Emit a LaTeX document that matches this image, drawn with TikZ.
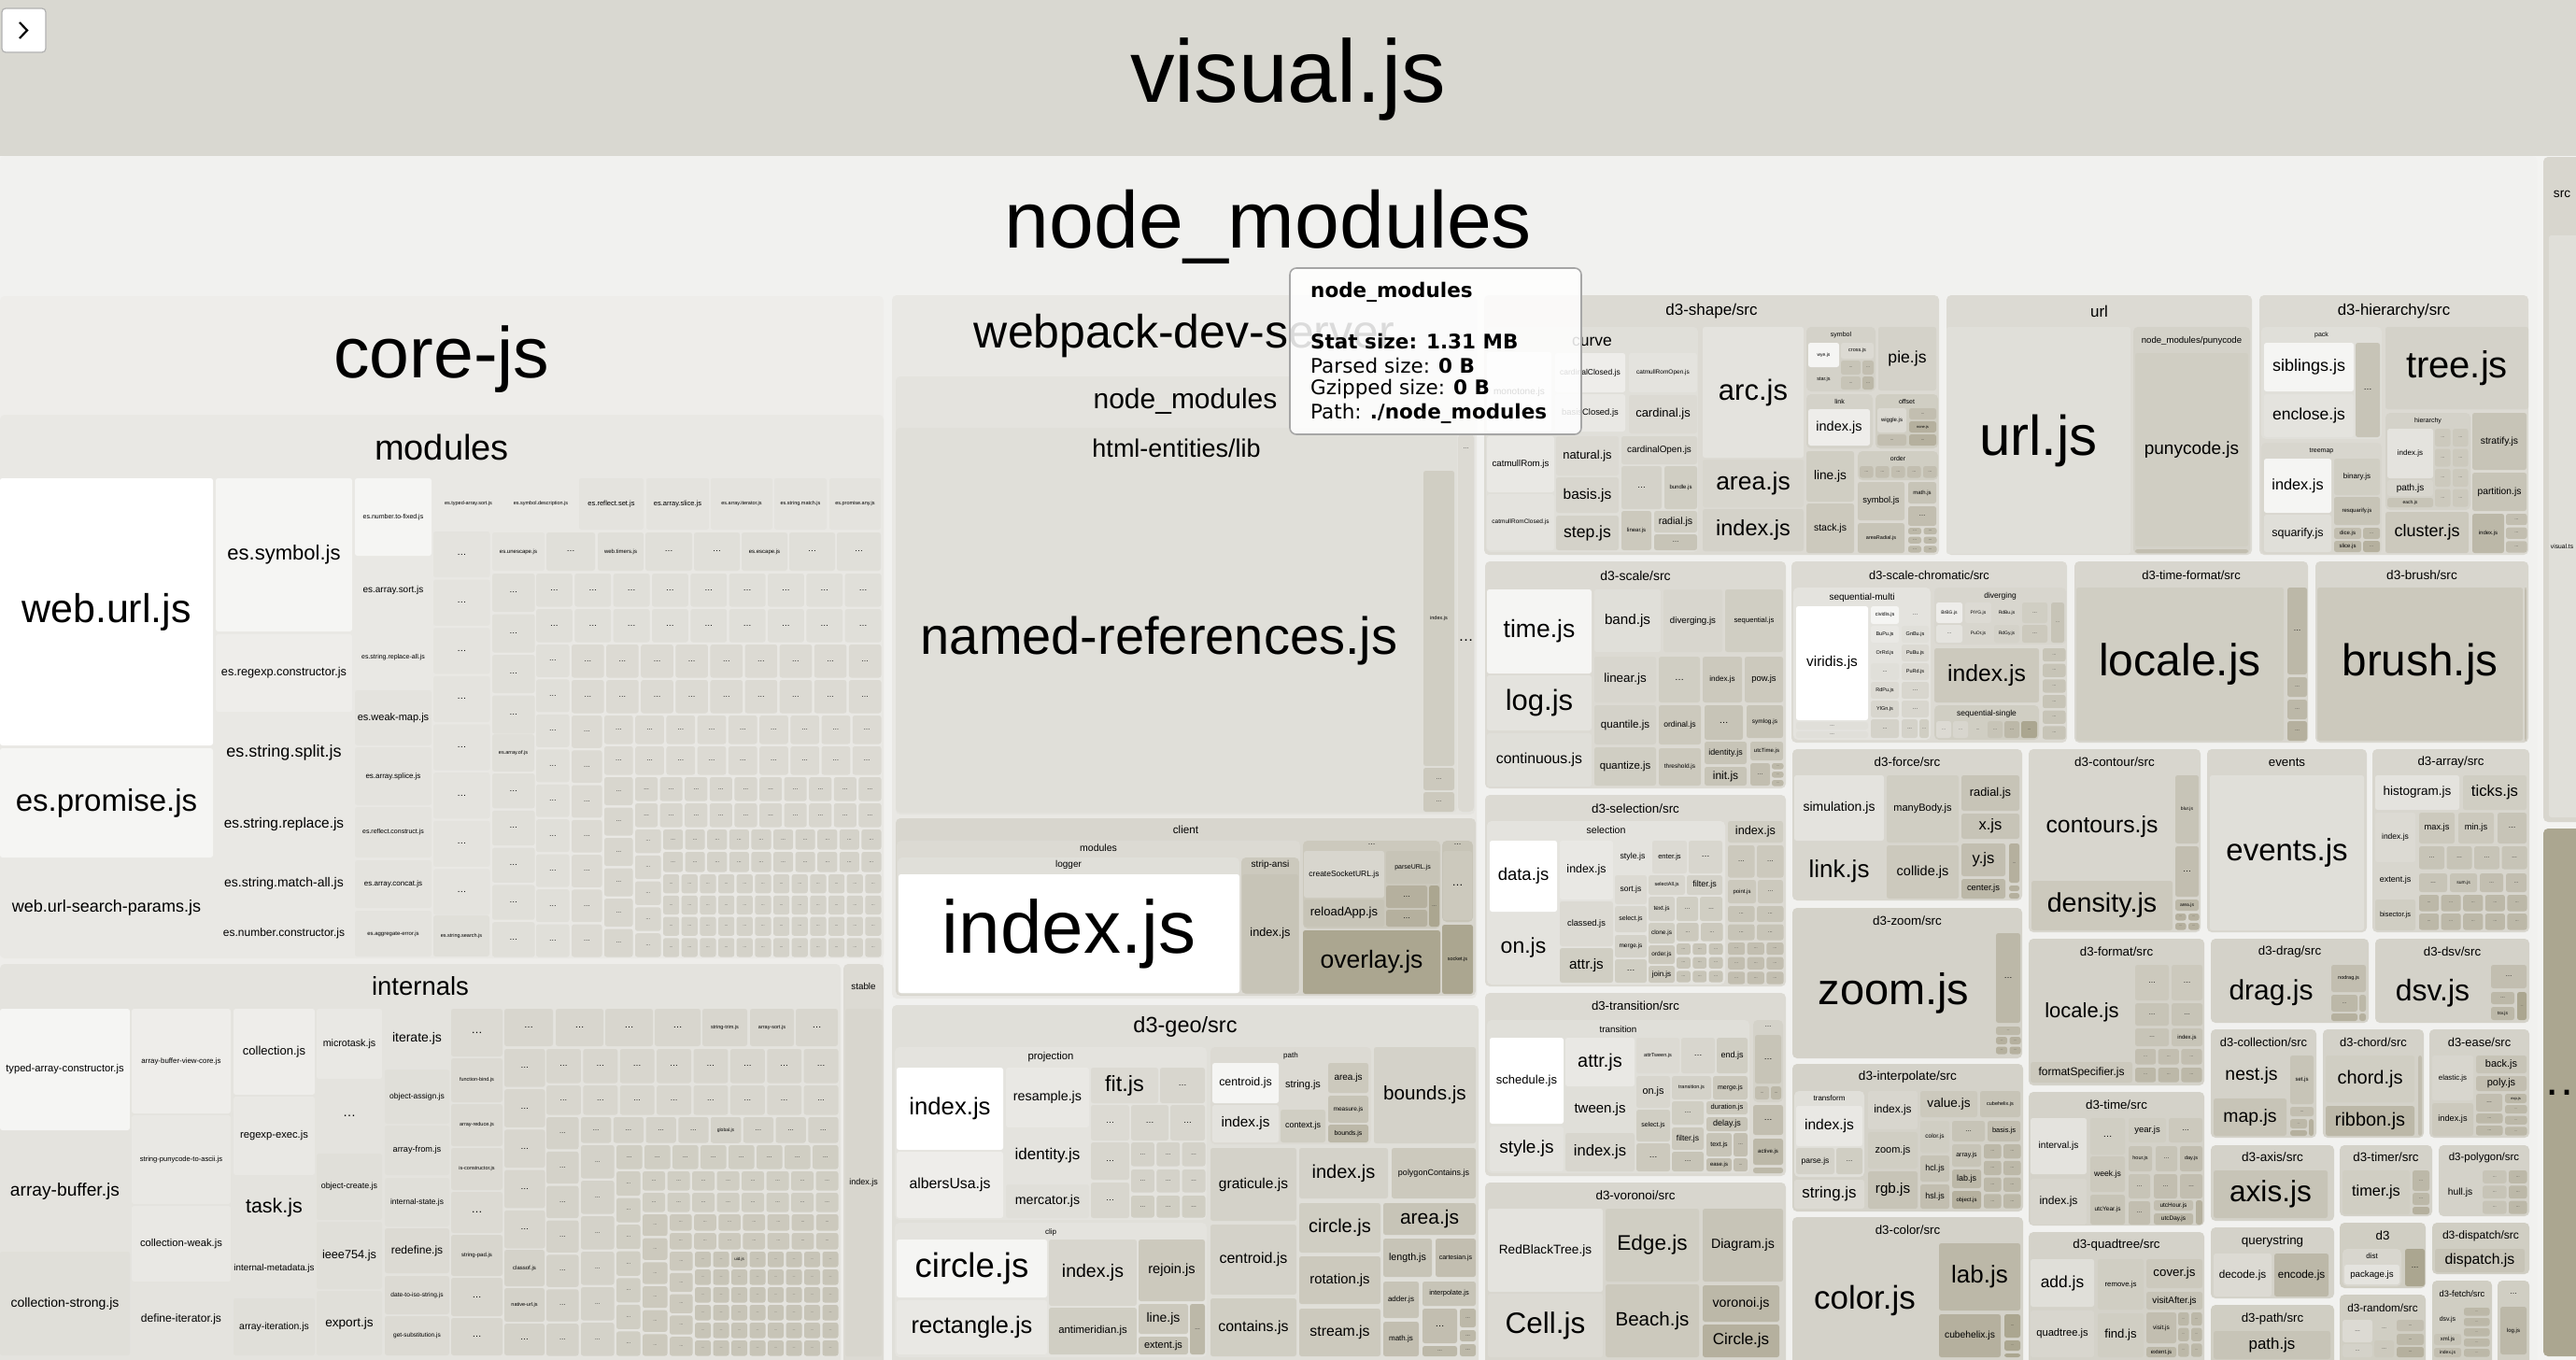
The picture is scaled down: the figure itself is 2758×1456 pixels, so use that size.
\documentclass[tikz,border=0pt]{standalone}
\usepackage{fontspec}
\setmainfont{Liberation Sans}
\newfontfamily\tipfont{DejaVu Sans}
\newcommand\fsz[1]{\fontsize{#1}{#1}\selectfont}

\definecolor{page}{HTML}{F3F3F1}
\definecolor{band}{HTML}{D9D8D1}
\definecolor{nmod}{HTML}{F1F1EF}
\definecolor{g0}{HTML}{FFFFFF}
\definecolor{g1}{HTML}{F5F5F3}
\definecolor{g2}{HTML}{EEEDEA}
\definecolor{g3}{HTML}{E9E8E4}
\definecolor{g4}{HTML}{E4E3DE}
\definecolor{g5}{HTML}{E0DFD9}
\definecolor{g6}{HTML}{DCDAD3}
\definecolor{g7}{HTML}{D8D6CE}
\definecolor{g8}{HTML}{D4D2C9}
\definecolor{g9}{HTML}{D0CEC3}
\definecolor{g10}{HTML}{CCC9BD}
\definecolor{g11}{HTML}{C7C4B7}
\definecolor{g12}{HTML}{C2BEB0}
\definecolor{g13}{HTML}{BCB8A8}
\definecolor{g14}{HTML}{B5B09E}
\definecolor{g15}{HTML}{ABA690}

% grid of small "..." cells: x0 y0 x1 y1 cols rows colour size
\newcommand\dotgrid[8]{%
  \foreach \i in {1,...,#5}{%
    \foreach \j in {1,...,#6}{%
      \pgfmathsetmacro\gxa{#1+(\i-1)*(#3-#1)/#5}%
      \pgfmathsetmacro\gxb{#1+\i*(#3-#1)/#5-2.5}%
      \pgfmathsetmacro\gya{#2+(\j-1)*(#4-#2)/#6}%
      \pgfmathsetmacro\gyb{#2+\j*(#4-#2)/#6-2.5}%
      \fill[#7,cell] (\gxa,\gya) rectangle (\gxb,\gyb);
      \node[font=\fsz{#8}] at ({(\gxa+\gxb)/2},{(\gya+\gyb)/2}) {…};
    }%
  }%
}

\begin{document}
\begin{tikzpicture}[x=1pt,y=-1pt,
  cell/.style={rounded corners=2.5},
  grp/.style={rounded corners=5},
  every node/.style={inner sep=0pt}]

\useasboundingbox (0,0) rectangle (2758,1456);
\clip (0,0) rectangle (2758,1456);

\fill[page] (0,0) rectangle (2758,1456);
\fill[band] (0,0) rectangle (2758,167);
\node[font=\fsz{95}] at (1379,85) {visual.js};
\fill[white,rounded corners=4] (2,9) rectangle (49,56);
\draw[black!30,line width=1.2,rounded corners=4] (2,9) rectangle (49,56);
\draw[line width=2.2] (21,24) -- (29,32.5) -- (21,41);

\fill[nmod,grp] (0,167) rectangle (2716,1480);
\node[font=\fsz{86}] at (1358,243) {node\_modules};

% src column
\fill[g7,grp] (2723,168) rectangle (2780,880);
\node[font=\fsz{13.6}] at (2743,208) {src};
\fill[g5,cell] (2729,252) rectangle (2780,875);
\node[font=\fsz{6.7}] at (2743,585) {visual.ts};
\fill[g15,grp] (2723,887) rectangle (2780,1452);
\node[font=\fsz{50}] at (2748,1170) {…};

% groups
\foreach \xa/\ya/\xb/\yb/\cc/\sz/\ty/\lb in {
  0/317/946/1480/g2/77/385/{core-js},
  0/444/946/1026/g3/38/479/{modules},
  0/1032/900/1480/g4/27.5/1056/{internals},
  903/1032/946/1480/g6/9.8/1056/{stable},
  955/316/1581/1069/g3/50/360/{webpack-dev-server},
  959/403/1579/872/g4/30/430/{node\_modules},
  959/458/1560/870/g5/27/480/{html-entities/lib},
  1561/464/1578/869/g6/6/480/{…},
  959/876/1580/1066/g7/11.7/888/{client},
  960/900/1392/1065/g6/10.5/908/{modules},
  961/918/1327/1064/g5/10/926/{logger},
  1329/918/1391/1064/g10/10/926/{strip-ansi},
  1395/900/1542/994/g10/8/904/{…},
  1544/900/1577/987/g11/8/904/{…},
  955/1076/1583/1480/g5/23.5/1099/{d3-geo/src},
  958/1121/1292/1306/g4/11.3/1132/{projection},
  958/1309/1292/1453/g4/8/1319/{clip},
  1296/1121/1468/1225/g6/8/1130/{path},
  1589/316/2076/594/g6/17/333/{d3-shape/src},
  1591/350/1818/591/g5/17.5/366/{curve},
  1934/350/2008/419/g8/7/359/{symbol},
  1934/422/2005/480/g8/7/430/{link},
  2008/422/2075/480/g9/7/430/{offset},
  1989/483/2075/514/g9/7/491/{order},
  2084/316/2411/594/g6/17/333/{url},
  2284/350/2409/593/g8/9.6/365/{node\_modules/punycode},
  2419/316/2707/594/g6/16.8/333/{d3-hierarchy/src},
  2421/350/2550/470/g5/7/359/{pack},
  2554/442/2645/546/g8/7/451/{hierarchy},
  2421/474/2550/593/g7/7/483/{treemap},
  1590/601/1912/844/g6/14/616/{d3-scale/src},
  1918/601/2213/795/g6/12.8/616/{d3-scale-chromatic/src},
  1920/629/2067/792/g4/10/640/{sequential-multi},
  2071/629/2212/690/g7/8.5/638/{diverging},
  2071/755/2183/792/g9/8.5/764/{sequential-single},
  2221/601/2471/795/g7/13/616/{d3-time-format/src},
  2479/601/2707/795/g7/13.6/616/{d3-brush/src},
  1590/851/1912/1056/g6/13.4/866/{d3-selection/src},
  1592/879/1847/1054/g4/10.6/889/{selection},
  1919/802/2165/964/g7/13.4/816/{d3-force/src},
  2172/802/2356/998/g7/13.4/816/{d3-contour/src},
  2363/802/2534/998/g7/13.3/816/{events},
  2540/802/2708/998/g7/13.3/816/{d3-array/src},
  1919/972/2165/1133/g8/13.4/986/{d3-zoom/src},
  2172/1005/2360/1162/g8/13.3/1019/{d3-format/src},
  2367/1005/2536/1095/g8/13.3/1019/{d3-drag/src},
  2543/1005/2708/1095/g8/13.3/1019/{d3-dsv/src},
  1590/1063/1912/1259/g6/13.2/1077/{d3-transition/src},
  1592/1092/1873/1256/g5/9.8/1102/{transition},
  1877/1092/1909/1180/g8/7/1099/{…},
  2367/1102/2480/1218/g8/12.9/1116/{d3-collection/src},
  2487/1102/2595/1218/g8/12.9/1116/{d3-chord/src},
  2601/1102/2708/1218/g8/12.9/1116/{d3-ease/src},
  1919/1139/2166/1297/g8/13.6/1153/{d3-interpolate/src},
  1921/1168/1996/1260/g5/8/1176/{transform},
  2172/1169/2360/1312/g8/13.3/1183/{d3-time/src},
  2367/1226/2499/1307/g8/13.6/1239/{d3-axis/src},
  2505/1226/2604/1302/g8/13.3/1239/{d3-timer/src},
  2611/1226/2708/1302/g8/11.5/1240/{d3-polygon/src},
  1590/1266/1912/1480/g7/13.4/1280/{d3-voronoi/src},
  1919/1303/2166/1480/g8/13.3/1317/{d3-color/src},
  2172/1319/2360/1480/g8/13.3/1333/{d3-quadtree/src},
  2367/1314/2499/1390/g8/13.4/1329/{querystring},
  2367/1397/2499/1480/g9/13.3/1412/{d3-path/src},
  2505/1309/2597/1379/g9/13.3/1323/{d3},
  2508/1337/2571/1377/g7/8/1345/{dist},
  2604/1309/2708/1364/g9/12.1/1323/{d3-dispatch/src},
  2505/1386/2597/1480/g9/11.7/1400/{d3-random/src},
  2604/1371/2668/1480/g9/9.3/1385/{d3-fetch/src},
  2674/1371/2708/1480/g9/8/1385/{…}}
{
  \fill[\cc,grp] (\xa,\ya) rectangle (\xb,\yb);
  \node[font=\fsz{\sz}] at ({(\xa+\xb)/2},\ty) {\lb};
}

% modules
\foreach \xa/\ya/\xb/\yb/\cc/\sz/\lb in {
  0/512/228/798/g0/43/{web.url.js},
  0/801/228/918/g1/33/{es.promise.js},
  0/920/228/1024/g3/18/{web.url-search-params.js},
  231/512/377/676/g1/22/{es.symbol.js},
  231/679/377/762/g2/12.7/{es.regexp.constructor.js},
  231/764/377/847/g3/18/{es.string.split.js},
  231/849/377/917/g3/15.4/{es.string.replace.js},
  231/919/377/972/g3/14/{es.string.match-all.js},
  231/975/377/1024/g3/12/{es.number.constructor.js},
  380/512/462/595/g1/7/{es.number.to-fixed.js},
  380/597/462/667/g3/10/{es.array.sort.js},
  380/670/462/737/g3/7/{es.string.replace-all.js},
  380/739/462/798/g4/11/{es.weak-map.js},
  380/800/462/862/g4/8/{es.array.splice.js},
  380/864/462/918/g4/7/{es.reflect.construct.js},
  380/921/462/972/g4/8/{es.array.concat.js},
  380/975/462/1024/g4/6/{es.aggregate-error.js},
  464/512/539/567/g3/5.5/{es.typed-array.sort.js},
  541/512/617/567/g3/5.5/{es.symbol.description.js},
  620/512/689/567/g4/7.5/{es.reflect.set.js},
  692/512/759/567/g4/7.5/{es.array.slice.js},
  761/512/827/567/g4/5.5/{es.array.iterator.js},
  829/512/885/567/g4/5.5/{es.string.match.js},
  888/512/943/567/g4/5.5/{es.promise.any.js},
  527/570/583/611/g4/6/{es.unescape.js},
  585/570/637/611/g5/9/{…},
  640/570/689/611/g5/6/{web.timers.js},
  691/570/741/611/g5/9/{…},
  743/570/792/611/g5/9/{…},
  794/570/843/611/g5/6/{es.escape.js},
  845/570/894/611/g5/9/{…},
  896/570/943/611/g5/9/{…},
  464/980/524/1024/g5/5.5/{es.string.search.js},
  527/786/572/826/g5/5.5/{es.array.of.js}}
{
  \fill[\cc,cell] (\xa,\ya) rectangle (\xb,\yb);
  \node[font=\fsz{\sz}] at ({(\xa+\xb)/2},{(\ya+\yb)/2}) {\lb};
}
\dotgrid{464}{569}{527}{982}{1}{8}{g4}{10}
\dotgrid{527}{614}{575}{788}{1}{4}{g5}{9}
\dotgrid{527}{828}{575}{1027}{1}{5}{g5}{9}
\dotgrid{574}{614}{946}{690}{9}{2}{g5}{9}
\dotgrid{574}{690}{612}{1027}{1}{9}{g5}{8}
\dotgrid{612}{690}{946}{766}{9}{2}{g6}{8}
\dotgrid{612}{766}{647}{1027}{1}{7}{g6}{7}
\dotgrid{647}{766}{946}{832}{9}{2}{g6}{7}
\dotgrid{647}{832}{680}{1027}{1}{6}{g7}{6}
\dotgrid{680}{832}{946}{888}{10}{2}{g7}{6}
\dotgrid{680}{888}{710}{1027}{1}{5}{g7}{5}
\dotgrid{710}{888}{946}{936}{10}{2}{g8}{5}
\dotgrid{710}{936}{946}{1027}{12}{4}{g8}{4}

% internals
\foreach \xa/\ya/\xb/\yb/\cc/\sz/\lb in {
  0/1080/139/1210/g1/11.2/{typed-array-constructor.js},
  0/1213/139/1338/g4/19.2/{array-buffer.js},
  0/1340/139/1451/g5/14/{collection-strong.js},
  141/1080/247/1192/g2/7.9/{array-buffer-view-core.js},
  141/1194/247/1289/g3/7.6/{string-punycode-to-ascii.js},
  141/1291/247/1372/g3/11.2/{collection-weak.js},
  141/1374/247/1451/g4/12.1/{define-iterator.js},
  250/1080/337/1172/g2/13/{collection.js},
  250/1174/337/1258/g3/11.2/{regexp-exec.js},
  250/1260/337/1325/g4/21.5/{task.js},
  250/1327/337/1388/g4/9.8/{internal-metadata.js},
  250/1390/337/1451/g5/10.4/{array-iteration.js},
  339/1080/409/1155/g3/10.7/{microtask.js},
  339/1157/409/1233/g4/14/{…},
  339/1235/409/1306/g5/8.9/{object-create.js},
  339/1308/409/1380/g5/12.7/{ieee754.js},
  339/1382/409/1451/g5/13.6/{export.js},
  412/1080/481/1143/g4/14/{iterate.js},
  412/1145/481/1203/g5/8.5/{object-assign.js},
  412/1205/481/1258/g5/9.2/{array-from.js},
  412/1261/481/1313/g5/8.4/{internal-state.js},
  412/1315/481/1363/g6/12/{redefine.js},
  412/1366/481/1407/g6/6.6/{date-to-iso-string.js},
  412/1409/481/1451/g6/6.5/{get-substitution.js},
  483/1080/538/1131/g6/12/{…},
  483/1133/538/1180/g6/5.5/{function-bind.js},
  483/1182/538/1227/g6/5.5/{array-reduce.js},
  483/1229/538/1274/g6/5.5/{is-constructor.js},
  483/1276/538/1320/g6/12/{…},
  483/1322/538/1366/g7/6/{string-pad.js},
  483/1368/538/1409/g7/10/{…},
  483/1411/538/1451/g7/10/{…},
  540/1080/592/1120/g7/10/{…},
  595/1080/646/1120/g7/10/{…},
  648/1080/699/1120/g7/10/{…},
  701/1080/750/1120/g7/10/{…},
  752/1080/800/1120/g7/5.5/{string-trim.js},
  803/1080/850/1120/g7/5.5/{array-sort.js},
  852/1080/897/1120/g7/10/{…},
  540/1338/583/1377/g8/6/{classof.js},
  540/1379/583/1415/g8/5.5/{native-url.js},
  540/1417/583/1451/g8/9/{…},
  905/1080/944/1452/g7/9/{index.js}}
{
  \fill[\cc,cell] (\xa,\ya) rectangle (\xb,\yb);
  \node[font=\fsz{\sz}] at ({(\xa+\xb)/2},{(\ya+\yb)/2}) {\lb};
}
\dotgrid{540}{1123}{586}{1339}{1}{5}{g7}{9}
\dotgrid{585}{1123}{900}{1162}{8}{1}{g7}{9}
\dotgrid{585}{1162}{900}{1196}{8}{1}{g7}{8}
\dotgrid{585}{1196}{622}{1454}{1}{7}{g8}{7}
\dotgrid{622}{1196}{900}{1226}{8}{1}{g8}{7}
\dotgrid{622}{1226}{660}{1454}{1}{6}{g8}{6}
\dotgrid{660}{1226}{900}{1254}{8}{1}{g9}{6}
\dotgrid{660}{1254}{688}{1454}{1}{7}{g9}{5}
\dotgrid{688}{1254}{900}{1300}{8}{2}{g9}{5}
\dotgrid{688}{1300}{717}{1454}{1}{6}{g10}{4}
\dotgrid{717}{1300}{900}{1340}{7}{2}{g10}{4}
\dotgrid{717}{1340}{744}{1454}{1}{5}{g10}{4}
\dotgrid{744}{1340}{900}{1454}{8}{6}{g11}{3}
\fill[g8,cell] (761,1196) rectangle (793,1223.5);
\node[font=\fsz{5}] at (777,1210) {global.js};
\fill[g11,cell] (783,1340) rectangle (800,1356.5);
\node[font=\fsz{4.5}] at (791.5,1348) {uid.js};

% webpack-dev-server and d3-geo
\foreach \xa/\ya/\xb/\yb/\cc/\sz/\lb in {
  961/504/1521/869/g5/56/{named-references.js},
  1524/504/1557/820/g9/5.5/{index.js},
  1524/822/1557/846/g10/6/{…},
  1524/848/1557/869/g10/6/{…},
  1562/504/1577/868/g6/16/{…},
  962/936/1327/1063/g0/80/{index.js},
  1330/936/1390/1063/g11/12.7/{index.js},
  1396/911/1482/961/g7/8.5/{createSocketURL.js},
  1484/911/1541/946/g11/7/{parseURL.js},
  1396/963/1482/992/g11/13/{reloadApp.js},
  1484/948/1528/972/g14/8/{…},
  1484/974/1528/992/g14/8/{…},
  1530/948/1541/992/g15/5/{…},
  1545/911/1576/985/g10/12/{…},
  1395/996/1542/1064/g15/26.5/{overlay.js},
  1544/990/1577/1064/g15/5.5/{socket.js},
  960/1143/1074/1231/g0/25.7/{index.js},
  960/1233/1074/1304/g2/15.8/{albersUsa.js},
  1077/1143/1166/1207/g3/14.3/{resample.js},
  1077/1209/1166/1266/g4/17/{identity.js},
  1077/1268/1166/1304/g5/14.2/{mercator.js},
  1168/1143/1240/1181/g6/23.5/{fit.js},
  1242/1143/1290/1181/g7/9/{…},
  1168/1183/1209/1221/g6/9/{…},
  1211/1183/1251/1221/g7/9/{…},
  1253/1183/1290/1221/g7/9/{…},
  1168/1223/1209/1263/g7/9/{…},
  1168/1266/1209/1304/g7/9/{…},
  960/1327/1121/1389/g1/36.5/{circle.js},
  960/1392/1121/1450/g3/25.4/{rectangle.js},
  1123/1327/1217/1398/g7/19.5/{index.js},
  1123/1400/1217/1450/g9/11.4/{antimeridian.js},
  1219/1327/1290/1393/g10/14.6/{rejoin.js},
  1219/1396/1272/1428/g10/14/{line.js},
  1219/1431/1272/1450/g11/11/{extent.js},
  1274/1396/1290/1450/g13/6/{…},
  1298/1138/1369/1181/g1/12.4/{centroid.js},
  1298/1183/1369/1223/g4/15.3/{index.js},
  1371/1138/1419/1186/g6/11/{string.js},
  1371/1188/1419/1223/g9/9/{context.js},
  1422/1138/1465/1170/g10/10/{area.js},
  1422/1173/1465/1202/g11/6.5/{measure.js},
  1422/1204/1465/1223/g13/7/{bounds.js},
  1471/1121/1580/1224/g8/20.7/{bounds.js},
  1296/1229/1388/1307/g8/15.5/{graticule.js},
  1296/1311/1388/1386/g8/16/{centroid.js},
  1296/1390/1388/1452/g9/15.9/{contains.js},
  1391/1229/1486/1283/g8/20/{index.js},
  1490/1229/1580/1283/g10/9/{polygonContains.js},
  1391/1288/1478/1341/g9/20/{circle.js},
  1481/1288/1580/1322/g11/21/{area.js},
  1391/1345/1478/1396/g10/14.8/{rotation.js},
  1391/1401/1478/1452/g10/15.8/{stream.js},
  1481/1326/1533/1367/g11/10.7/{length.js},
  1537/1326/1580/1367/g12/7/{cartesian.js},
  1481/1372/1519/1411/g11/8/{adder.js},
  1523/1372/1580/1398/g11/7.5/{interpolate.js},
  1481/1415/1519/1452/g12/8/{math.js},
  1523/1401/1560/1438/g12/10/{…},
  1563/1401/1580/1421/g13/5/{…},
  1563/1424/1580/1436/g13/5/{…},
  1523/1441/1560/1452/g13/5/{…},
  1563/1439/1580/1452/g13/5/{…}}
{
  \fill[\cc,cell] (\xa,\ya) rectangle (\xb,\yb);
  \node[font=\fsz{\sz}] at ({(\xa+\xb)/2},{(\ya+\yb)/2}) {\lb};
}
\dotgrid{1211}{1223}{1293}{1251}{3}{1}{g8}{6}
\dotgrid{1211}{1252}{1293}{1279}{3}{1}{g8}{6}
\dotgrid{1211}{1280}{1293}{1306}{3}{1}{g9}{6}

% d3-shape, url, d3-hierarchy
\foreach \xa/\ya/\xb/\yb/\cc/\sz/\lb in {
  1592/377/1661/462/g1/10.1/{monotone.js},
  1665/378/1740/420/g2/8.5/{cardinalClosed.js},
  1665/422/1740/462/g3/9.4/{basisClosed.js},
  1744/378/1817/420/g4/6.5/{catmullRomOpen.js},
  1744/423/1817/464/g6/13/{cardinal.js},
  1592/467/1664/527/g3/9.7/{catmullRom.js},
  1592/529/1664/589/g4/6.5/{catmullRomClosed.js},
  1666/467/1733/509/g6/12.9/{natural.js},
  1666/511/1733/549/g7/15.5/{basis.js},
  1666/552/1733/589/g8/17.6/{step.js},
  1736/467/1817/497/g7/9.9/{cardinalOpen.js},
  1736/499/1779/545/g8/9/{…},
  1782/499/1817/545/g9/6/{bundle.js},
  1736/547/1768/589/g10/6/{linear.js},
  1771/547/1817/570/g9/10.6/{radial.js},
  1771/572/1817/589/g11/7/{…},
  1823/350/1931/490/g4/31/{arc.js},
  1823/492/1931/543/g7/26.5/{area.js},
  1823/545/1931/590/g8/23.5/{index.js},
  1936/367/1969/393/g1/5/{wye.js},
  1971/367/2006/384/g6/5.5/{cross.js},
  1936/395/1969/417/g8/5.5/{star.js},
  1971/386/1992/401/g11/4/{…},
  1994/386/2006/401/g12/4/{…},
  1971/403/1992/417/g11/4/{…},
  1994/403/2006/417/g13/4/{…},
  2011/350/2073/418/g8/17.6/{pie.js},
  1936/438/2002/477/g2/14.5/{index.js},
  2010/437/2041/463/g6/6/{wiggle.js},
  2044/437/2073/449/g12/4/{…},
  2044/451/2073/463/g14/4/{none.js},
  2010/465/2041/477/g12/4/{…},
  2044/465/2073/477/g14/4/{…},
  1934/483/1985/537/g9/13.7/{line.js},
  1934/539/1985/592/g10/10.5/{stack.js},
  1989/516/2039/557/g10/9.4/{symbol.js},
  2043/516/2073/539/g11/6/{math.js},
  2043/542/2073/563/g12/7/{…},
  1989/560/2039/592/g11/5.5/{areaRadial.js},
  2084/350/2281/593/g5/60/{url.js},
  2286/378/2407/585/g9/19/{punycode.js},
  2286/588/2407/592/g12/2/{},
  2424/367/2520/419/g1/18/{siblings.js},
  2424/422/2520/468/g4/17.5/{enclose.js},
  2522/367/2548/468/g11/9/{…},
  2554/350/2707/438/g8/40/{tree.js},
  2556/459/2605/512/g4/8/{index.js},
  2556/514/2605/531/g7/10/{path.js},
  2556/533/2605/543/g11/5/{each.js},
  2647/442/2705/503/g11/10.4/{stratify.js},
  2647/506/2705/547/g11/10.3/{partition.js},
  2424/491/2496/549/g1/16.3/{index.js},
  2424/551/2496/591/g5/12.5/{squarify.js},
  2499/491/2548/530/g9/8/{binary.js},
  2499/532/2548/562/g11/6/{resquarify.js},
  2499/565/2528/577/g12/6/{dice.js},
  2499/579/2528/591/g13/6/{slice.js},
  2530/565/2548/577/g13/4/{…},
  2530/579/2548/591/g14/4/{…},
  2554/548/2643/592/g10/18/{cluster.js},
  2647/550/2681/592/g13/6/{index.js}}
{
  \fill[\cc,cell] (\xa,\ya) rectangle (\xb,\yb);
  \node[font=\fsz{\sz}] at ({(\xa+\xb)/2},{(\ya+\yb)/2}) {\lb};
}
\dotgrid{1991}{499}{2076}{514}{5}{1}{g12}{4}
\dotgrid{2043}{565}{2076}{594}{2}{3}{g13}{4}
\dotgrid{2607}{459}{2645}{545}{2}{4}{g10}{4}
\dotgrid{2683}{550}{2708}{594}{1}{3}{g12}{4}

% d3-scale, d3-scale-chromatic, d3-time-format, d3-brush, d3-selection
\foreach \xa/\ya/\xb/\yb/\cc/\sz/\lb in {
  1592/631/1704/721/g1/26.5/{time.js},
  1592/723/1704/782/g4/31/{log.js},
  1592/785/1704/842/g5/15.8/{continuous.js},
  1707/631/1778/698/g5/15.2/{band.js},
  1781/631/1844/698/g7/9.7/{diverging.js},
  1847/631/1909/698/g9/7.7/{sequential.js},
  1707/703/1773/752/g7/13.4/{linear.js},
  1776/703/1820/752/g9/10/{…},
  1823/703/1865/752/g10/8.1/{index.js},
  1868/703/1909/752/g10/9.5/{pow.js},
  1707/755/1773/797/g8/11.6/{quantile.js},
  1776/755/1821/797/g10/8.6/{ordinal.js},
  1825/755/1866/792/g11/10/{…},
  1870/755/1909/790/g11/6.5/{symlog.js},
  1707/800/1773/841/g9/11.4/{quantize.js},
  1776/801/1821/841/g10/6.5/{threshold.js},
  1825/794/1870/818/g11/8.9/{identity.js},
  1874/794/1909/814/g11/6/{utcTime.js},
  1825/821/1870/841/g11/12/{init.js},
  1874/817/1895/841/g12/6/{…},
  1923/649/2000/771/g0/15.4/{viridis.js},
  1923/773/2000/781/g5/5/{…},
  1923/783/2000/790/g5/5/{…},
  2003/649/2033/668/g1/5.5/{cividis.js},
  2036/649/2065/668/g4/5.5/{…},
  2003/670/2033/688/g3/5.5/{BuPu.js},
  2036/670/2065/688/g5/5.5/{GnBu.js},
  2003/690/2033/708/g4/5.5/{OrRd.js},
  2036/690/2065/708/g6/5.5/{PuBu.js},
  2003/710/2033/728/g5/5.5/{…},
  2036/710/2065/728/g6/5.5/{PuRd.js},
  2003/730/2033/748/g6/5.5/{RdPu.js},
  2036/730/2065/748/g7/5.5/{…},
  2003/750/2033/768/g7/5.5/{YlGn.js},
  2036/750/2065/768/g7/5.5/{…},
  2003/770/2033/790/g8/5/{…},
  2036/770/2053/790/g8/5/{…},
  2055/770/2065/790/g9/4/{…},
  2073/645/2101/667/g2/5/{BrBG.js},
  2104/645/2132/667/g6/5/{PiYG.js},
  2135/645/2162/667/g7/5/{RdBu.js},
  2165/645/2192/667/g9/5/{…},
  2196/645/2210/688/g11/4/{…},
  2073/669/2101/688/g4/5/{…},
  2104/669/2132/688/g7/5/{PuOr.js},
  2135/669/2162/688/g8/5/{RdGy.js},
  2165/669/2192/688/g10/5/{…},
  2071/694/2183/752/g10/24.7/{index.js},
  2073/772/2089/790/g6/4/{…},
  2091/772/2107/790/g7/4/{…},
  2109/772/2126/790/g9/4/{…},
  2128/772/2144/790/g11/4/{…},
  2146/772/2162/790/g13/4/{…},
  2164/772/2181/790/g15/4/{…},
  2223/629/2445/793/g9/48/{locale.js},
  2449/629/2470/722/g13/8/{…},
  2449/725/2470/746/g13/5/{…},
  2449/749/2470/770/g13/5/{…},
  2449/772/2470/793/g14/5/{…},
  2481/629/2701/793/g10/47.7/{brush.js},
  2703/629/2705/793/g12/1/{},
  1595/900/1667/976/g0/18.5/{data.js},
  1595/978/1667/1052/g4/23/{on.js},
  1670/900/1727/963/g3/12.4/{index.js},
  1670/965/1727/1013/g6/9.3/{classed.js},
  1670/1015/1727/1052/g9/15.3/{attr.js},
  1729/900/1767/935/g4/8.8/{style.js},
  1769/900/1806/935/g6/7.6/{enter.js},
  1808/900/1844/935/g7/9/{…},
  1729/937/1763/968/g6/8.5/{sort.js},
  1765/937/1804/958/g7/5.5/{selectAll.js},
  1806/937/1844/958/g8/9/{filter.js},
  1729/970/1763/998/g7/7/{select.js},
  1765/960/1793/986/g8/6.5/{text.js},
  1795/960/1818/986/g9/6/{…},
  1820/960/1844/986/g9/6/{…},
  1729/1001/1763/1025/g8/6.5/{merge.js},
  1765/988/1793/1010/g9/6.5/{clone.js},
  1765/1012/1793/1032/g10/6.5/{order.js},
  1765/1034/1793/1052/g10/8/{join.js},
  1729/1027/1763/1052/g9/9/{…},
  1850/879/1909/902/g9/12.7/{index.js},
  1850/942/1880/967/g10/6/{point.js},
  1882/942/1909/967/g10/6/{…}}
{
  \fill[\cc,cell] (\xa,\ya) rectangle (\xb,\yb);
  \node[font=\fsz{\sz}] at ({(\xa+\xb)/2},{(\ya+\yb)/2}) {\lb};
}
\dotgrid{1897}{817}{1912}{844}{1}{3}{g13}{3}
\dotgrid{2187}{694}{2214}{794}{1}{6}{g11}{4}
\dotgrid{1795}{988}{1847}{1010}{2}{1}{g10}{5}
\dotgrid{1795}{1010}{1847}{1054}{3}{3}{g11}{4}
\dotgrid{1850}{905}{1912}{942}{2}{1}{g10}{7}
\dotgrid{1850}{970}{1912}{1009}{2}{2}{g11}{5}
\dotgrid{1850}{1009}{1912}{1056}{3}{3}{g12}{4}

% d3-force, d3-zoom, d3-contour, events, d3-array, d3-format, d3-drag, d3-dsv
\foreach \xa/\ya/\xb/\yb/\cc/\sz/\lb in {
  1921/830/2017/900/g4/14/{simulation.js},
  1921/903/2017/962/g7/26/{link.js},
  2020/830/2097/902/g9/11/{manyBody.js},
  2020/905/2097/962/g10/14.5/{collide.js},
  2100/830/2162/868/g11/12.8/{radial.js},
  2100/871/2162/898/g11/16.6/{x.js},
  2100/903/2147/938/g12/16.6/{y.js},
  2100/941/2147/962/g13/9.4/{center.js},
  2151/903/2162/945/g14/4/{…},
  2151/948/2162/954/g14/2/{},
  2151/956/2162/962/g14/2/{},
  1921/999/2134/1128/g8/47/{zoom.js},
  2137/999/2163/1095/g13/9/{…},
  2137/1099/2163/1108/g13/3/{…},
  2175/830/2326/941/g7/24.8/{contours.js},
  2175/943/2326/996/g10/28.7/{density.js},
  2329/830/2354/903/g11/5/{blur.js},
  2329/906/2354/960/g12/9/{…},
  2329/963/2354/975/g13/5/{area.js},
  2366/830/2531/996/g5/33/{events.js},
  2543/830/2633/867/g4/13.5/{histogram.js},
  2637/830/2705/867/g9/16.7/{ticks.js},
  2543/870/2586/923/g6/8.5/{index.js},
  2543/925/2586/960/g7/9/{extent.js},
  2543/963/2586/996/g9/7.4/{bisector.js},
  2590/870/2628/903/g10/9.3/{max.js},
  2632/870/2670/903/g10/9.3/{min.js},
  2674/870/2705/903/g11/8/{…},
  2590/935/2620/955/g11/6/{…},
  2623/935/2652/955/g11/5/{sum.js},
  2655/935/2680/955/g12/5/{…},
  2683/935/2705/955/g12/5/{…},
  2174/1033/2284/1135/g8/22/{locale.js},
  2174/1137/2283/1159/g10/12/{formatSpecifier.js},
  2286/1033/2322/1071/g10/8/{…},
  2325/1033/2358/1071/g10/8/{…},
  2286/1074/2322/1098/g11/7/{…},
  2325/1074/2358/1098/g11/7/{…},
  2286/1101/2322/1120/g11/6/{…},
  2325/1101/2358/1120/g11/6/{index.js},
  2369/1033/2494/1093/g8/30/{drag.js},
  2496/1033/2533/1062/g12/5.5/{nodrag.js},
  2496/1065/2524/1083/g13/5/{…},
  2526/1065/2533/1083/g13/2/{},
  2496/1085/2524/1093/g14/3/{},
  2526/1085/2533/1093/g14/2/{},
  2544/1033/2665/1093/g8/32/{dsv.js},
  2667/1033/2705/1058/g12/7/{…},
  2667/1062/2692/1075/g13/5/{…},
  2667/1078/2692/1092/g13/5/{tsv.js},
  2695/1062/2705/1092/g15/3/{…}}
{
  \fill[\cc,cell] (\xa,\ya) rectangle (\xb,\yb);
  \node[font=\fsz{\sz}] at ({(\xa+\xb)/2},{(\ya+\yb)/2}) {\lb};
}
\dotgrid{2137}{1110}{2166}{1131}{2}{2}{g14}{3}
\dotgrid{2329}{978}{2357}{998}{2}{2}{g14}{3}
\dotgrid{2590}{906}{2708}{933}{4}{1}{g11}{6}
\dotgrid{2590}{958}{2708}{998}{5}{2}{g13}{4}
\dotgrid{2286}{1123}{2360}{1142}{3}{1}{g12}{4}
\dotgrid{2286}{1143}{2360}{1161}{3}{1}{g13}{4}

% d3-transition, d3-voronoi, d3-interpolate, d3-color
\foreach \xa/\ya/\xb/\yb/\cc/\sz/\lb in {
  1595/1111/1674/1203/g0/13/{schedule.js},
  1595/1206/1674/1254/g4/19/{style.js},
  1676/1111/1750/1163/g3/19.9/{attr.js},
  1676/1165/1750/1210/g5/15/{tween.js},
  1676/1213/1750/1254/g7/16.6/{index.js},
  1752/1111/1798/1149/g6/5.5/{attrTween.js},
  1800/1111/1836/1149/g7/9/{…},
  1838/1111/1871/1149/g9/9/{end.js},
  1752/1152/1788/1186/g7/10.9/{on.js},
  1752/1188/1788/1222/g9/7/{select.js},
  1752/1224/1788/1254/g10/9/{…},
  1790/1152/1832/1177/g8/5.5/{transition.js},
  1834/1152/1871/1177/g10/7/{merge.js},
  1790/1179/1824/1204/g9/7/{…},
  1827/1179/1871/1193/g10/7.5/{duration.js},
  1827/1196/1871/1211/g11/9/{delay.js},
  1790/1207/1824/1231/g10/8.5/{filter.js},
  1827/1213/1854/1238/g11/7/{text.js},
  1856/1213/1871/1238/g12/5/{…},
  1790/1233/1824/1254/g11/7/{…},
  1827/1240/1854/1254/g12/6/{ease.js},
  1856/1240/1871/1254/g12/4/{…},
  1879/1108/1907/1160/g11/9/{…},
  1879/1163/1894/1177/g12/4/{…},
  1896/1163/1907/1177/g13/4/{…},
  1877/1183/1909/1215/g12/9/{…},
  1877/1219/1909/1247/g13/6/{active.js},
  1877/1250/1909/1256/g13/3/{},
  1593/1294/1716/1383/g4/13.6/{RedBlackTree.js},
  1593/1385/1716/1453/g6/31.5/{Cell.js},
  1719/1294/1819/1372/g9/22.6/{Edge.js},
  1719/1375/1819/1453/g10/20.6/{Beach.js},
  1823/1294/1909/1372/g11/14.2/{Diagram.js},
  1823/1376/1905/1415/g13/14.2/{voronoi.js},
  1823/1418/1905/1453/g14/17/{Circle.js},
  1923/1184/1994/1227/g3/15.6/{index.js},
  1923/1229/1964/1257/g8/8.5/{parse.js},
  1966/1229/1994/1257/g9/7/{…},
  1921/1263/1996/1294/g6/16.9/{string.js},
  2000/1168/2053/1209/g7/11.9/{index.js},
  2000/1212/2053/1251/g9/11/{zoom.js},
  2000/1254/2053/1294/g11/15.2/{rgb.js},
  2056/1168/2117/1196/g10/13.6/{value.js},
  2120/1168/2163/1196/g11/5.5/{cubehelix.js},
  2056/1200/2087/1234/g9/6.5/{color.js},
  2056/1237/2087/1265/g11/9/{hcl.js},
  2056/1268/2087/1294/g12/9/{hsl.js},
  2090/1200/2125/1222/g11/7/{…},
  2128/1200/2163/1222/g12/7.5/{basis.js},
  2090/1225/2121/1249/g11/7/{array.js},
  2090/1252/2121/1272/g13/9/{lab.js},
  2090/1275/2121/1294/g14/6/{object.js},
  1921/1331/2072/1453/g8/35/{color.js},
  2076/1331/2163/1403/g13/26/{lab.js},
  2076/1407/2142/1453/g14/10.3/{cubehelix.js},
  2146/1407/2163/1432/g15/4/{…},
  2146/1435/2163/1446/g15/3/{…},
  2146/1449/2163/1453/g15/2/{}}
{
  \fill[\cc,cell] (\xa,\ya) rectangle (\xb,\yb);
  \node[font=\fsz{\sz}] at ({(\xa+\xb)/2},{(\ya+\yb)/2}) {\lb};
}
\dotgrid{2124}{1225}{2166}{1296}{2}{4}{g13}{4}

% d3-time, d3-quadtree and the small groups
\foreach \xa/\ya/\xb/\yb/\cc/\sz/\lb in {
  2370/1130/2451/1173/g8/19.4/{nest.js},
  2370/1176/2448/1216/g11/19.4/{map.js},
  2452/1130/2477/1182/g11/6/{set.js},
  2452/1185/2477/1195/g12/4/{…},
  2452/1198/2470/1208/g13/3/{…},
  2472/1198/2477/1216/g14/2/{},
  2452/1210/2470/1216/g14/2/{},
  2490/1130/2585/1180/g9/20/{chord.js},
  2490/1184/2585/1216/g13/19.9/{ribbon.js},
  2589/1130/2593/1216/g12/1/{},
  2604/1130/2648/1178/g7/7.9/{elastic.js},
  2604/1181/2648/1216/g10/9.2/{index.js},
  2651/1130/2705/1149/g11/11/{back.js},
  2651/1152/2705/1168/g12/11/{poly.js},
  2651/1171/2679/1190/g12/6/{…},
  2682/1171/2705/1181/g13/4/{exp.js},
  2174/1197/2234/1257/g4/10.1/{interval.js},
  2174/1262/2234/1311/g7/12.1/{index.js},
  2238/1197/2275/1236/g9/10/{…},
  2238/1238/2275/1276/g10/8.6/{week.js},
  2238/1279/2275/1311/g11/6.5/{utcYear.js},
  2279/1197/2319/1223/g9/9.5/{year.js},
  2322/1197/2358/1223/g10/8/{…},
  2279/1227/2304/1254/g11/5.5/{hour.js},
  2308/1227/2331/1254/g11/6/{…},
  2334/1227/2358/1254/g12/5.5/{day.js},
  2279/1257/2302/1283/g11/6/{…},
  2306/1257/2331/1283/g12/6/{…},
  2334/1257/2358/1283/g12/6/{…},
  2279/1286/2302/1311/g12/6/{…},
  2306/1285/2348/1296/g12/6.5/{utcHour.js},
  2306/1299/2348/1311/g13/6.5/{utcDay.js},
  2351/1285/2358/1311/g14/2/{},
  2174/1348/2242/1399/g5/17.4/{add.js},
  2174/1403/2242/1453/g7/11.2/{quadtree.js},
  2246/1348/2295/1402/g9/7.8/{remove.js},
  2246/1406/2295/1453/g9/13.1/{find.js},
  2298/1348/2358/1379/g10/13.3/{cover.js},
  2298/1383/2358/1402/g11/9.9/{visitAfter.js},
  2298/1405/2330/1438/g12/6.5/{visit.js},
  2298/1442/2330/1453/g13/6/{extent.js},
  2370/1253/2492/1304/g11/31.6/{axis.js},
  2508/1253/2580/1300/g9/16.3/{timer.js},
  2583/1253/2601/1275/g13/4/{…},
  2583/1277/2601/1290/g13/4/{…},
  2583/1292/2601/1300/g14/3/{},
  2613/1253/2655/1300/g8/10.3/{hull.js},
  2370/1342/2432/1388/g6/11.8/{decode.js},
  2435/1342/2493/1388/g13/11.8/{encode.js},
  2370/1425/2495/1455/g11/16.9/{path.js},
  2510/1354/2569/1375/g4/9.7/{package.js},
  2575/1337/2596/1377/g15/8/{…},
  2607/1337/2703/1362/g11/15.8/{dispatch.js},
  2508/1413/2540/1437/g6/6/{…},
  2508/1439/2540/1453/g8/5/{…},
  2542/1413/2563/1432/g9/5/{…},
  2542/1435/2563/1453/g10/5/{…},
  2566/1413/2595/1425/g12/4/{…},
  2566/1428/2595/1440/g13/4/{…},
  2566/1442/2595/1453/g14/4/{…},
  2606/1400/2635/1425/g9/7/{dsv.js},
  2606/1428/2635/1440/g11/6/{xml.js},
  2606/1443/2635/1453/g12/5/{index.js},
  2677/1399/2705/1450/g13/6/{log.js}}
{
  \fill[\cc,cell] (\xa,\ya) rectangle (\xb,\yb);
  \node[font=\fsz{\sz}] at ({(\xa+\xb)/2},{(\ya+\yb)/2}) {\lb};
}
\dotgrid{2682}{1183}{2708}{1218}{1}{3}{g13}{3}
\dotgrid{2651}{1192}{2682}{1218}{1}{2}{g13}{4}
\dotgrid{2332}{1405}{2360}{1455}{2}{3}{g13}{3}
\dotgrid{2658}{1253}{2686}{1302}{1}{3}{g11}{4}
\dotgrid{2686}{1253}{2708}{1302}{1}{3}{g13}{4}
\dotgrid{2638}{1400}{2668}{1455}{1}{5}{g13}{3}

% tooltip
\fill[white,fill opacity=0.86,rounded corners=7] (1381,287) rectangle (1693,465);
\draw[black!35,line width=1.6,rounded corners=7] (1381,287) rectangle (1693,465);
\node[anchor=west,font=\tipfont\bfseries\fsz{21.5}] at (1403,313) {node\_modules};
\node[anchor=west,font=\tipfont\bfseries\fsz{21.5}] at (1403,365) {Stat size: 1.31 MB};
\node[anchor=west,font=\tipfont\fsz{21.5}] at (1403,391) {Parsed size: \textbf{0 B}};
\node[anchor=west,font=\tipfont\fsz{21.5}] at (1403,417) {Gzipped size: \textbf{0 B}};
\node[anchor=west,font=\tipfont\fsz{21.5}] at (1403,443) {Path: \textbf{./node\_modules}};

\end{tikzpicture}
\end{document}
